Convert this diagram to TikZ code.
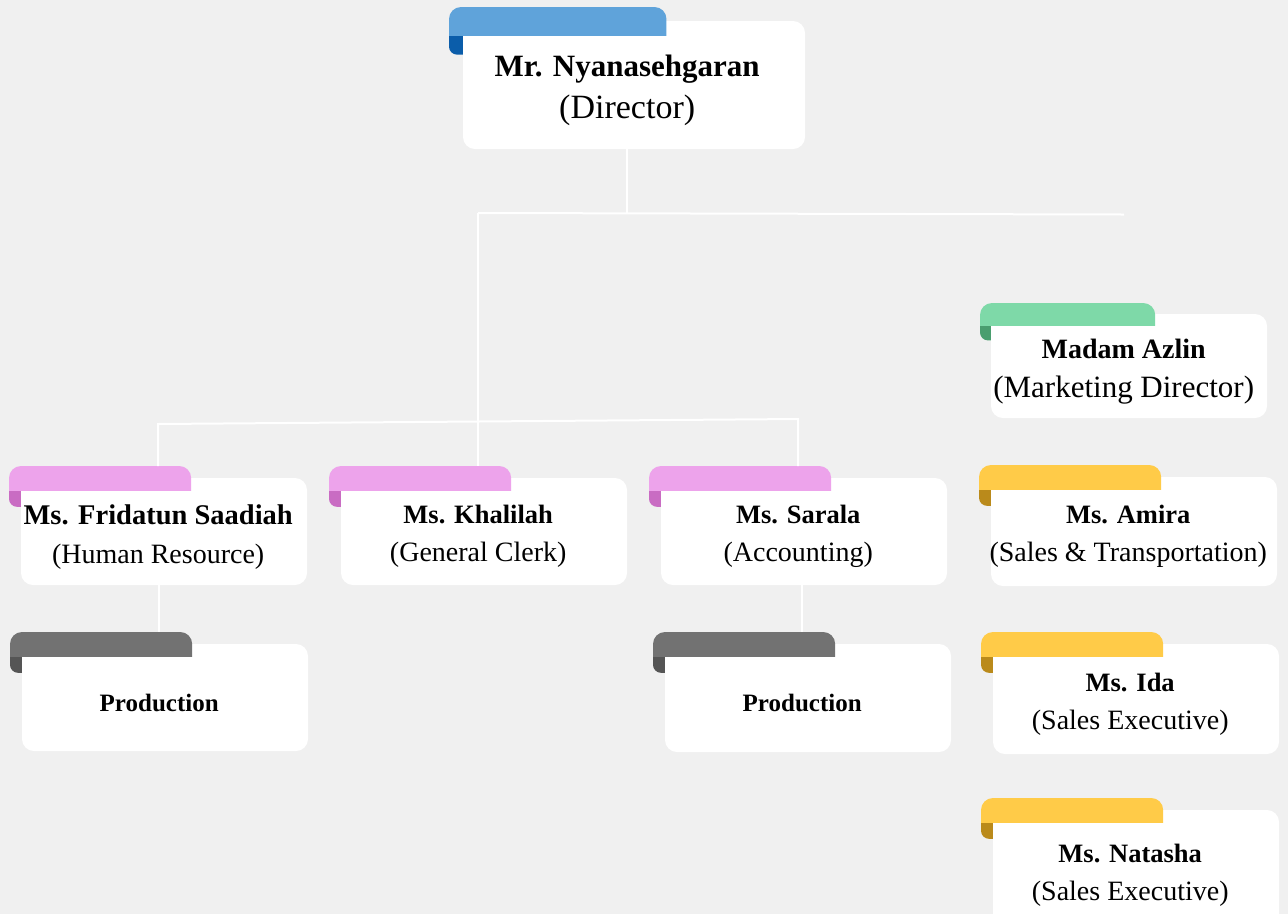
\documentclass[tikz,border=0pt]{standalone}
\usepackage{fontspec}
\setmainfont{Liberation Serif}

\definecolor{pagebg}{HTML}{F0F0F0}
\definecolor{tabblue}{HTML}{5FA3DA}
\definecolor{foldblue}{HTML}{0B5DAA}
\definecolor{tabpink}{HTML}{EDA3EB}
\definecolor{foldpink}{HTML}{C96CC3}
\definecolor{tabgrey}{HTML}{727272}
\definecolor{foldgrey}{HTML}{555555}
\definecolor{tabgreen}{HTML}{7ED9A8}
\definecolor{foldgreen}{HTML}{4A9E6F}
\definecolor{tabyellow}{HTML}{FFCB48}
\definecolor{foldyellow}{HTML}{BA8A1B}

\tikzset{
  card/.style={anchor=north west, inner sep=0pt, align=center,
    font=\fontsize{28}{38}\selectfont},
  link/.style={draw=white, line width=2pt},
}

\newcommand{\cardname}[1]{{\fontsize{26.5}{38}\selectfont\bfseries #1}}

% card: name, box left, box top, width, height, tab step, colour, text
\newcommand{\orgcard}[8]{%
  \fill[fold#7, rounded corners=8pt] (#2-#6,#3) rectangle (#2+12,#3+2.4*#6);
  \fill[white, rounded corners=12pt] (#2,#3) rectangle (#2+#4,#3+#5);
  \node[card, minimum width={#4+#6}, minimum height={#5-10}] (#1) at (#2-#6,#3+10) {#8};
  \begin{scope}
    \clip (#2-#6,#3-#6) rectangle (#2+0.595*#4,#3+#6);
    \fill[tab#7, rounded corners=12pt] (#2-#6,#3-#6) rectangle (#2+0.595*#4,#3+3*#6);
  \end{scope}
  \path (#1.north) ++(0,-10-#6) coordinate (#1-top);
}

\begin{document}
\begin{tikzpicture}[x=1pt, y=-1pt]
  \fill[pagebg] (0,0) rectangle (1288,914);
  \clip (0,0) rectangle (1288,914);

  \orgcard{dir}{463}{21}{342}{128}{14}{blue}
    {{\fontsize{31}{42}\selectfont\bfseries Mr. Nyanasehgaran}\\[4pt]{\fontsize{34}{42}\selectfont (Director)}}

  \orgcard{fridatun}{21}{478}{286}{107}{12}{pink}
    {{\fontsize{28.5}{39}\selectfont\bfseries Ms. Fridatun Saadiah}\\[1pt](Human Resource)}
  \orgcard{khalilah}{341}{478}{286}{107}{12}{pink}
    {\cardname{Ms. Khalilah}\\(General Clerk)}
  \orgcard{sarala}{661}{478}{286}{107}{12}{pink}
    {\cardname{Ms. Sarala}\\(Accounting)}

  \orgcard{prod1}{22}{644}{286}{107}{12}{grey}
    {{\fontsize{25}{30}\selectfont\bfseries Production}}
  \orgcard{prod2}{665}{644}{286}{108}{12}{grey}
    {{\fontsize{25}{30}\selectfont\bfseries Production}}

  \orgcard{azlin}{991}{314}{276}{104}{11}{green}
    {{\fontsize{28}{39}\selectfont\bfseries Madam Azlin}\\[1pt]{\fontsize{31}{39}\selectfont (Marketing Director)}}
  \orgcard{amira}{991}{477}{286}{109}{12}{yellow}
    {\cardname{Ms. Amira}\\(Sales \& Transportation)}
  \orgcard{ida}{993}{644}{286}{110}{12}{yellow}
    {\cardname{Ms. Ida}\\(Sales Executive)}
  \orgcard{natasha}{993}{810}{286}{120}{12}{yellow}
    {\cardname{Ms. Natasha}\\(Sales Executive)}

  % connectors
  \coordinate (topbus) at (0,213);
  \coordinate (topbus-end) at (1124,214.5);
  \coordinate (midbus-l) at (0,424);
  \coordinate (midbus-r) at (0,419);

  \draw[link] (dir.south) -- (dir.south |- topbus);
  \draw[link] (khalilah-top |- topbus) -- (topbus-end);
  \draw[link] (khalilah-top |- topbus) -- (khalilah-top);
  \draw[link] (fridatun-top) -- (fridatun-top |- midbus-l)
    -- (sarala-top |- midbus-r) -- (sarala-top);
  \draw[link] (prod1-top |- fridatun.south) -- (prod1-top);
  \draw[link] (prod2-top |- sarala.south) -- (prod2-top);
\end{tikzpicture}
\end{document}
